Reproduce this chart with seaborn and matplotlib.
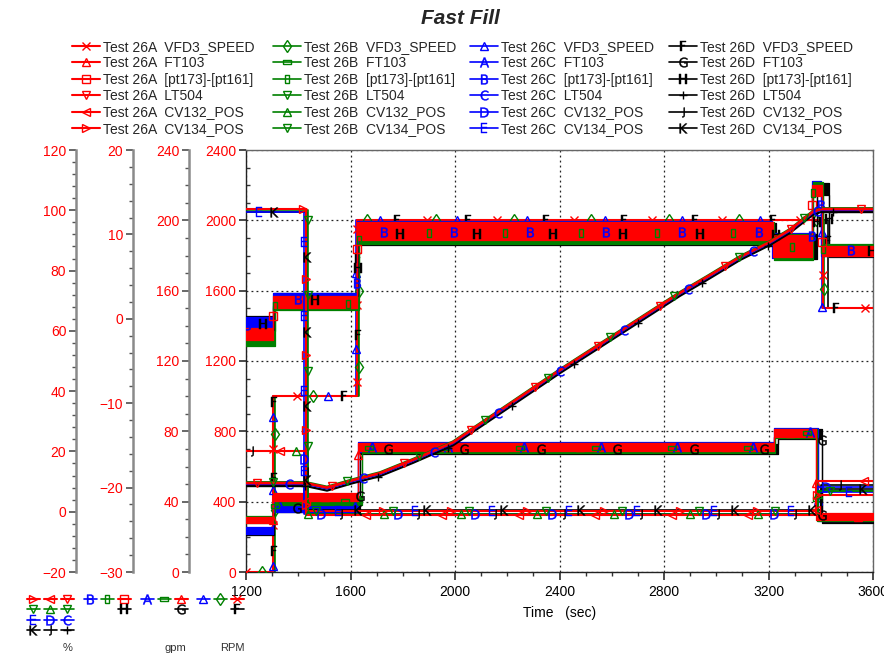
import matplotlib
matplotlib.use("Agg")
import matplotlib.pyplot as plt
import seaborn as sns
import numpy as np
import pandas as pd
from matplotlib.lines import Line2D
from matplotlib.path import Path
from matplotlib.ticker import MultipleLocator
from matplotlib import font_manager

# ---------------- data ----------------
tests = ["Test 26A", "Test 26B", "Test 26C", "Test 26D"]
var_names = ["VFD3_SPEED", "FT103", "[pt173]-[pt161]", "LT504", "CV132_POS", "CV134_POS"]
t_start, t_end = 1200, 3600

# VFD3_SPEED (RPM): levels and switching times per test
vfd_levels = [0, 1000, 2000, 1500]
vfd_switch_A = [1305, 1625, 3408]
vfd_switch_B = [1312, 1632, 3412]
vfd_switch_C = [1302, 1622, 3404]
vfd_switch_D = [1308, 1628, 3428]

# FT103 (gpm)
ft_levels_A = [29.5, 42.5, 71.0, 79.0, 31.5]
ft_levels_B = [30.0, 40.5, 70.5, 79.0, 31.0]
ft_levels_C = [23.5, 37.0, 71.0, 79.5, 31.0]
ft_levels_D = [23.0, 36.5, 70.0, 78.5, 30.0]
ft_switch_A = [1305, 1628, 3222, 3380]
ft_switch_B = [1312, 1645, 3225, 3385]
ft_switch_C = [1303, 1630, 3220, 3390]
ft_switch_D = [1308, 1635, 3235, 3405]
ft_noise = [2.0, 2.6, 2.8, 2.6, 2.2]

# [pt173]-[pt161]
pt_levels_A = [-1.8, 2.0, 10.4, 8.6, 15.2, 8.0]
pt_levels_B = [-2.3, 1.8, 10.2, 8.5, 15.5, 8.2]
pt_levels_C = [-0.7, 2.3, 10.3, 8.7, 15.6, 8.1]
pt_levels_D = [-0.6, 2.2, 10.1, 8.6, 15.4, 8.0]
pt_switch_A = [1305, 1626, 3218, 3368, 3405]
pt_switch_B = [1312, 1634, 3222, 3372, 3410]
pt_switch_C = [1302, 1624, 3215, 3366, 3402]
pt_switch_D = [1308, 1630, 3230, 3385, 3430]
pt_noise = [0.9, 0.8, 1.3, 1.5, 0.7, 0.7]
noise_scale = [0.85, 1.0, 1.0, 1.0]

# LT504 (%)
lt_time = [1200, 1430, 1510, 1610, 1713, 1839, 1992, 2402, 2861, 2965, 3091,
           3206, 3282, 3370, 3400, 3600]
lt_level = [9.5, 9.5, 8.0, 10.5, 12.8, 17.2, 23.0, 47.0, 72.6, 77.9, 84.5,
            89.5, 93.5, 99.5, 100.4, 100.4]
lt_offset = [0.0, 0.3, -0.3, -1.0]

# CV132_POS / CV134_POS (%)
cv132_levels_A = [20.0, -1.0, 10.2]
cv132_levels_B = [20.0, -0.8, 7.0]
cv132_levels_C = [20.0, -0.9, 8.2]
cv132_levels_D = [20.0, -0.9, 8.8]
cv134_levels_A = [100.5, 0.4, 5.5]
cv134_levels_B = [100.0, 0.3, 6.9]
cv134_levels_C = [99.5, 0.4, 6.5]
cv134_levels_D = [99.3, 0.5, 7.5]
cv_switch_A = [1430, 3383]
cv_switch_B = [1437, 3388]
cv_switch_C = [1422, 3385]
cv_switch_D = [1433, 3400]

# ---------------- styles ----------------
test_colors = ["#ff0000", "#008000", "#0000ff", "#000000"]
rect_tall = [(-0.45, -1), (0.45, -1), (0.45, 1), (-0.45, 1), (-0.45, -1)]
rect_wide = [(-1, -0.55), (1, -0.55), (1, 0.55), (-1, 0.55), (-1, -0.55)]
test_markers = [
    ["x", "^", "s", "v", "<", ">"],
    ["d", rect_wide, rect_tall, "v", "^", "v"],
    ["^", r"$\mathrm{A}$", r"$\mathrm{B}$", r"$\mathrm{C}$", r"$\mathrm{D}$", r"$\mathrm{E}$"],
    [r"$\mathrm{F}$", r"$\mathrm{G}$", r"$\mathrm{H}$", "+", r"$\mathrm{J}$", r"$\mathrm{K}$"],
]
var_marker_offset = [0.00, 0.035, 0.06, 0.015, 0.045, 0.075]

sns.set_theme(style="ticks")
names = {f.name for f in font_manager.fontManager.ttflist}
narrow = "Liberation Sans Narrow" if "Liberation Sans Narrow" in names else "Liberation Sans"
plt.rcParams["font.family"] = ["Liberation Sans", "DejaVu Sans"]
plt.rcParams["mathtext.fontset"] = "dejavusans"

W, H = 884, 654
fig = plt.figure(figsize=(W / 100, H / 100), dpi=100)
fig.patch.set_facecolor("white")
L, R, T, B = 246, 873, 150, 572
ax = fig.add_axes([L / W, 1 - B / H, (R - L) / W, (B - T) / H])
ax_gpm = ax.twinx()
ax_pt = ax.twinx()
ax_pct = ax.twinx()


def steps(switch, levels):
    t, v = [t_start], [levels[0]]
    for s, a, b in zip(switch, levels[:-1], levels[1:]):
        t += [s, s]
        v += [a, b]
    t.append(t_end)
    v.append(levels[-1])
    return t, v


def marker_kws(color, marker, size):
    if isinstance(marker, str) and marker.startswith("$"):
        return dict(marker=marker, markersize=size + 1, markerfacecolor=color,
                    markeredgecolor=color, markeredgewidth=0.3)
    return dict(marker=marker, markersize=size, markerfacecolor="none",
                markeredgecolor=color, markeredgewidth=1.0)


def draw_markers(axis, t, v, ti, vi):
    # identification glyphs spread evenly along the drawn path
    color = test_colors[ti]
    path = Path(np.column_stack([t, v])).interpolated(60)
    off = (var_marker_offset[vi] + 0.021 * ti) % 0.1
    axis.plot(path.vertices[:, 0], path.vertices[:, 1], linestyle="none",
              markevery=(off, 0.1), zorder=4, **marker_kws(color, test_markers[ti][vi], 6))


def draw(axis, t, v, ti, vi, lw):
    color = test_colors[ti]
    sns.lineplot(x=t, y=v, ax=axis, estimator=None, sort=False, color=color,
                 linewidth=lw, zorder=2 + (3 - ti) * 0.2, legend=False)
    draw_markers(axis, t, v, ti, vi)


def draw_noisy(axis, t, v, n, ti, vi):
    color = test_colors[ti]
    lo = [a - b * noise_scale[ti] for a, b in zip(v, n)]
    hi = [a + b * noise_scale[ti] for a, b in zip(v, n)]
    axis.fill_between(t, lo, hi, color=color, linewidth=0.9, zorder=2 + (3 - ti) * 0.2)
    draw_markers(axis, t, v, ti, vi)


vfd_sw = [vfd_switch_A, vfd_switch_B, vfd_switch_C, vfd_switch_D]
ft_lv = [ft_levels_A, ft_levels_B, ft_levels_C, ft_levels_D]
ft_sw = [ft_switch_A, ft_switch_B, ft_switch_C, ft_switch_D]
pt_lv = [pt_levels_A, pt_levels_B, pt_levels_C, pt_levels_D]
pt_sw = [pt_switch_A, pt_switch_B, pt_switch_C, pt_switch_D]
c132 = [cv132_levels_A, cv132_levels_B, cv132_levels_C, cv132_levels_D]
c134 = [cv134_levels_A, cv134_levels_B, cv134_levels_C, cv134_levels_D]
cv_sw = [cv_switch_A, cv_switch_B, cv_switch_C, cv_switch_D]

# set limits first so marker spacing is computed on the final scales
ax.set_xlim(1200, 3600)
ax.set_ylim(0, 2400)
ax_gpm.set_ylim(0, 240)
ax_pt.set_ylim(-30, 20)
ax_pct.set_ylim(-20, 120)

for ti in [3, 2, 1, 0]:
    lw = 1.5 if ti == 0 else 1.2
    draw(ax_pct, lt_time, [x + lt_offset[ti] for x in lt_level], ti, 3, lw + 0.4)
    draw(ax_pct, *steps(cv_sw[ti], c132[ti]), ti, 4, lw)
    draw(ax_pct, *steps(cv_sw[ti], c134[ti]), ti, 5, lw)
    t, v = steps(ft_sw[ti], ft_lv[ti])
    _, n = steps(ft_sw[ti], ft_noise)
    draw_noisy(ax_gpm, t, v, n, ti, 1)
    t, v = steps(pt_sw[ti], pt_lv[ti])
    _, n = steps(pt_sw[ti], pt_noise)
    draw_noisy(ax_pt, t, v, n, ti, 2)
    draw(ax, *steps(vfd_sw[ti], vfd_levels), ti, 0, lw)

# ---------------- axes formatting ----------------
ax.set_xlim(1200, 3600)
ax.set_ylim(0, 2400)
ax_gpm.set_ylim(0, 240)
ax_pt.set_ylim(-30, 20)
ax_pct.set_ylim(-20, 120)

ax.xaxis.set_major_locator(MultipleLocator(400))
ax.xaxis.set_minor_locator(MultipleLocator(100))
ax.yaxis.set_major_locator(MultipleLocator(400))
ax.yaxis.set_minor_locator(MultipleLocator(100))
ax.grid(True, which="major", color="#222222", linestyle=(0, (1.5, 2.5)), linewidth=0.9)
ax.set_xlabel("Time   (sec)", fontsize=10, labelpad=5, color="black")
ax.set_ylabel("")
ax.tick_params(axis="x", which="major", direction="out", length=6, labelsize=10,
               labelcolor="black", color="#333333")
ax.tick_params(axis="x", which="minor", direction="out", length=3, color="#333333")
ax.tick_params(axis="y", which="major", direction="out", length=5, labelsize=10,
               labelcolor="red", color="#333333", pad=2)
ax.tick_params(axis="y", which="minor", direction="in", length=3, color="#333333")
for s in ["top", "right"]:
    ax.spines[s].set_color("#666666")
    ax.spines[s].set_linewidth(1.0)
for s in ["left", "bottom"]:
    ax.spines[s].set_color("#222222")
    ax.spines[s].set_linewidth(1.0)

for a, px, maj, mnr in [(ax_gpm, 189, 40, 10), (ax_pt, 133, 10, 2), (ax_pct, 76, 20, 4)]:
    a.spines["left"].set_position(("axes", (px - L) / (R - L)))
    a.spines["left"].set_visible(True)
    a.spines["left"].set_color("#8a8a8a")
    a.spines["left"].set_linewidth(1.8)
    for s in ["right", "top", "bottom"]:
        a.spines[s].set_visible(False)
    a.yaxis.set_ticks_position("left")
    a.yaxis.set_label_position("left")
    a.yaxis.set_major_locator(MultipleLocator(maj))
    a.yaxis.set_minor_locator(MultipleLocator(mnr))
    a.tick_params(axis="y", which="major", direction="out", length=5, labelsize=10,
                  labelcolor="red", color="#555555", pad=2)
    a.tick_params(axis="y", which="minor", direction="out", length=3, color="#555555")
    a.set_ylabel("")
    a.set_xlabel("")

fig.text(460 / W, 1 - 18 / H, "Fast Fill", ha="center", va="center", fontsize=15,
         fontweight="bold", fontstyle="italic", family=[narrow, "Liberation Sans"])


# ---------------- legends ----------------
def proxy(ti, vi):
    color = test_colors[ti]
    lw = 1.5 if ti == 0 else 1.2
    return Line2D([0], [0], color=color, linewidth=lw, **marker_kws(color, test_markers[ti][vi], 6))


col_x = [72, 273, 470, 669]
for ti in range(4):
    handles = [proxy(ti, vi) for vi in range(6)]
    labels = [f"{tests[ti]}  {v}" for v in var_names]
    fig.legend(handles, labels, loc="upper left",
               bbox_to_anchor=(col_x[ti] / W, 1 - 40 / H), frameon=False,
               prop={"family": [narrow, "Liberation Sans"], "size": 10},
               handlelength=2.0, handletextpad=0.25, labelspacing=0.17,
               borderpad=0, borderaxespad=0)

blank = Line2D([], [], linestyle="none")


def key(handles, x, y):
    fig.legend(handles, [""] * len(handles), loc="upper left", ncol=3,
               bbox_to_anchor=(x / W, 1 - y / H), frameon=False, fontsize=6,
               handlelength=1.5, handletextpad=0.0, columnspacing=0.55,
               labelspacing=0.3, borderpad=0, borderaxespad=0)


key([proxy(ti, 5) for ti in range(4)] + [proxy(ti, 4) for ti in range(4)]
    + [proxy(ti, 3) for ti in range(4)], 27, 596)
key([proxy(2, 2), blank, proxy(1, 2), blank, proxy(0, 2), proxy(3, 2)], 84, 596)
key([proxy(2, 1), blank, proxy(1, 1), blank, proxy(0, 1), proxy(3, 1)], 141, 596)
key([proxy(2, 0), blank, proxy(1, 0), blank, proxy(0, 0), proxy(3, 0)], 197, 596)
for x, txt in [(68, "%"), (175, "gpm"), (232, "RPM")]:
    fig.text(x / W, 1 - 648 / H, txt, ha="center", va="center", fontsize=8, color="#333333")

fig.savefig("out.png", dpi=100, facecolor="white")
